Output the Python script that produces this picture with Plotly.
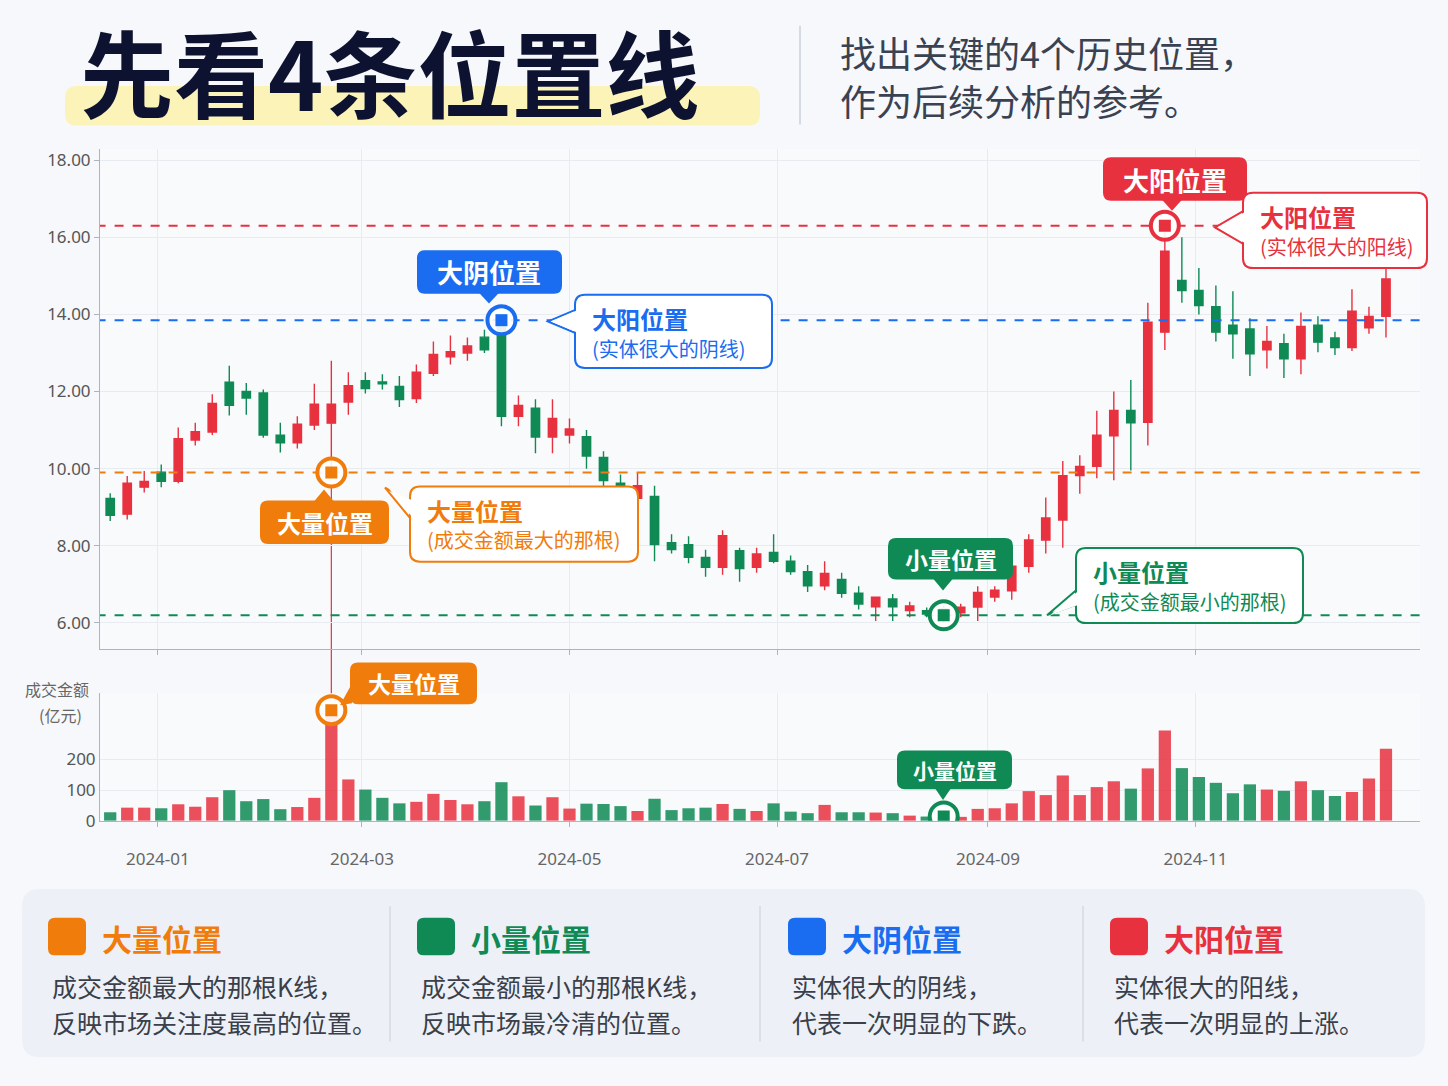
import pandas as pd
import plotly.graph_objects as go

opens  = [9.23,8.82,9.52,9.91,9.67,10.74,10.95,12.24,12.00,11.96,10.87,10.67,11.13,11.18,11.73,12.28,12.25,12.13,11.82,12.47,12.90,13.00,13.41,13.92,11.36,
          11.57,10.82,10.87,10.83,10.29,9.62,9.23,9.28,8.08,8.03,7.70,7.44,7.87,7.44,7.83,7.60,7.33,6.96,7.13,6.77,6.42,6.62,6.32,6.32,6.36,6.26,
          6.41,6.67,6.83,7.47,8.15,8.67,9.82,10.06,10.85,11.51,11.20,13.54,14.88,14.62,14.20,13.72,13.62,13.08,13.24,12.85,13.72,13.39,13.14,13.65,13.95]
highs  = [9.36,9.81,9.94,10.11,11.07,11.19,11.93,12.67,12.22,12.05,11.19,11.36,12.20,12.80,12.50,12.50,12.45,12.40,12.70,13.30,13.45,13.40,13.60,13.95,11.90,
          11.80,11.80,11.30,11.00,10.45,9.85,9.90,9.56,8.30,8.25,7.90,8.40,7.95,7.95,8.30,7.75,7.50,7.60,7.30,6.95,6.60,6.75,6.55,6.40,6.45,6.50,
          6.95,6.95,7.65,8.30,9.25,10.20,10.35,11.50,12.00,12.30,14.30,16.30,16.00,15.20,14.75,14.60,13.90,13.70,13.50,14.05,13.95,13.55,14.65,14.20,15.20]
lows   = [8.64,8.68,9.38,9.52,9.62,10.60,10.87,11.38,11.40,10.80,10.42,10.52,11.00,9.90,11.40,11.95,12.05,11.60,11.70,12.40,12.70,12.80,13.00,11.10,11.10,
          10.40,10.40,10.65,10.00,9.55,9.45,9.20,7.60,7.80,7.55,7.20,7.25,7.07,7.30,7.55,7.25,6.80,6.85,6.65,6.35,6.05,6.05,6.15,6.15,6.00,6.15,
          6.05,6.55,6.60,7.30,7.80,7.95,9.35,9.75,9.70,9.95,10.60,13.08,14.30,14.00,13.30,12.85,12.40,12.60,12.35,12.45,13.02,12.95,13.05,13.50,13.40]
closes = [8.79,9.62,9.67,9.67,10.78,10.96,11.69,11.64,11.83,10.87,10.67,11.15,11.67,11.67,12.15,12.08,12.20,11.79,12.50,12.96,13.03,13.18,13.08,11.36,11.64,
          10.82,11.30,11.03,10.33,9.69,9.56,9.56,8.03,7.90,7.70,7.44,8.26,7.41,7.79,7.60,7.33,6.96,7.28,6.77,6.49,6.67,6.42,6.44,6.23,6.08,6.41,
          6.79,6.85,7.47,8.15,8.72,9.82,10.06,10.87,11.51,11.19,13.80,15.64,14.62,14.23,13.54,13.50,12.98,13.30,12.85,13.69,13.28,13.14,14.08,13.95,14.92]
volumes = [28,43,43,41,54,46,77,100,64,71,38,45,75,361,135,102,75,57,62,88,68,54,64,126,80,50,77,40,56,55,48,32,72,35,41,43,55,39,32,
           57,30,25,52,28,28,27,25,17,14,8,13,39,41,57,97,84,148,84,110,129,105,171,295,172,143,124,90,119,102,98,129,100,81,94,138,235]
dates = pd.date_range("2023-12-18", periods=len(opens), freq="5D")
level_lines = {"red": 16.3, "blue": 13.85, "orange": 9.9, "green": 6.2}
x_ticks = ["2024-01-01", "2024-03-01", "2024-05-01", "2024-07-01", "2024-09-01", "2024-11-01"]
x_tick_text = ["2024-01", "2024-03", "2024-05", "2024-07", "2024-09", "2024-11"]
price_ticks = [6, 8, 10, 12, 14, 16, 18]
vol_ticks = [0, 100, 200]

RED, GREEN, BLUE, ORANGE = "#e8313f", "#0f8a55", "#1a6cf0", "#f07c0c"
FONT = "Noto Sans CJK SC"
W, H = 1448, 1086
def px(x): return x / W
def py(y): return 1 - y / H

big_i = max(range(len(volumes)), key=lambda i: volumes[i])
small_i = min(range(len(volumes)), key=lambda i: volumes[i])
yin_i, yang_i = 23, 62

fig = go.Figure()
fig.add_trace(go.Candlestick(x=dates, open=opens, high=highs, low=lows, close=closes,
    increasing=dict(line=dict(color=RED, width=1.4), fillcolor=RED),
    decreasing=dict(line=dict(color=GREEN, width=1.4), fillcolor=GREEN),
    whiskerwidth=0, xaxis="x", yaxis="y", showlegend=False, hoverinfo="skip"))
vcol = [RED if c >= o else GREEN for o, c in zip(opens, closes)]
fig.add_trace(go.Bar(x=dates, y=volumes, marker=dict(color=vcol, line=dict(width=0)), opacity=0.85,
    xaxis="x2", yaxis="y2", showlegend=False, width=1000*3600*24*3.6))

lines_x = [dates[0] - pd.Timedelta(days=4), dates[-1] + pd.Timedelta(days=10)]
for c, v in zip([RED, BLUE, ORANGE, GREEN], level_lines.values()):
    fig.add_trace(go.Scatter(x=lines_x, y=[v, v], mode="lines", line=dict(color=c, width=2, dash="dash"),
        showlegend=False, hoverinfo="skip"))

def mark(xv, yv, c, xa="x", ya="y"):
    fig.add_trace(go.Scatter(x=[xv], y=[yv], mode="markers", xaxis=xa, yaxis=ya,
        marker=dict(symbol="circle", size=28, color="rgba(255,255,255,0.9)", line=dict(color=c, width=4)),
        showlegend=False, hoverinfo="skip"))
    fig.add_trace(go.Scatter(x=[xv], y=[yv], mode="markers", xaxis=xa, yaxis=ya,
        marker=dict(symbol="square", size=12, color=c), showlegend=False, hoverinfo="skip"))

mark(dates[yang_i], level_lines["red"], RED)
mark(dates[yin_i], level_lines["blue"], BLUE)
mark(dates[big_i], level_lines["orange"], ORANGE)
mark(dates[small_i], level_lines["green"], GREEN)
mark(dates[big_i], volumes[big_i], ORANGE, "x2", "y2")
mark(dates[small_i], 14, GREEN, "x2", "y2")

shapes, anns = [], []
def rrect(x0, y0, x1, y1, r, fill, line=None, lw=0):
    p = (f"M {px(x0+r)} {py(y0)} L {px(x1-r)} {py(y0)} Q {px(x1)} {py(y0)} {px(x1)} {py(y0+r)} "
         f"L {px(x1)} {py(y1-r)} Q {px(x1)} {py(y1)} {px(x1-r)} {py(y1)} L {px(x0+r)} {py(y1)} "
         f"Q {px(x0)} {py(y1)} {px(x0)} {py(y1-r)} L {px(x0)} {py(y0+r)} Q {px(x0)} {py(y0)} {px(x0+r)} {py(y0)} Z")
    shapes.append(dict(type="path", xref="paper", yref="paper", path=p, fillcolor=fill,
                       line=dict(color=line or fill, width=lw), layer="above"))
def tri(pts, fill, line=None, lw=0):
    p = "M " + " L ".join(f"{px(a)} {py(b)}" for a, b in pts) + " Z"
    shapes.append(dict(type="path", xref="paper", yref="paper", path=p, fillcolor=fill,
                       line=dict(color=line or fill, width=lw), layer="above"))
def text(x, y, s, size, color, xa="center", ya="middle", bold=False, align="center"):
    anns.append(dict(xref="paper", yref="paper", x=px(x), y=py(y), text=f"<b>{s}</b>" if bold else s,
        showarrow=False, xanchor=xa, yanchor=ya, align=align, font=dict(family=FONT, size=size, color=color)))

def tag(x0, y0, x1, y1, c, s, tip, size=26):
    rrect(x0, y0, x1, y1, 8, c)
    tip(c)
    text((x0+x1)/2, (y0+y1)/2, s, size, "white", bold=True)

def callout(x0, y0, x1, y1, c, t1, t2, ptr):
    tri(ptr, "white", c, 2)
    rrect(x0, y0, x1, y1, 10, "white", c, 2)
    tri([(p[0] + (3 if p[0] < x0 + 5 else 0), p[1]) for p in ptr], "white")
    text(x0 + 15, y0 + 24, t1, 24, c, xa="left", bold=True)
    text(x0 + 15, y0 + 54, t2, 20, c, xa="left")

shapes.append(dict(type="line", xref="x", yref="paper", x0=dates[big_i], x1=dates[big_i], y0=py(700), y1=py(490),
                   line=dict(color=RED, width=1.2), layer="below"))

tag(1103, 158, 1247, 202, RED, "大阳位置", lambda c: tri([(1162, 201), (1182, 201), (1172, 212)], c))
callout(1243, 194, 1427, 270, RED, "大阳位置", "(实体很大的阳线)", [(1244, 212), (1215, 229), (1244, 246)])
tag(417, 252, 562, 296, BLUE, "大阴位置", lambda c: tri([(479, 295), (499, 295), (489, 306)], c))
callout(575, 297, 772, 371, BLUE, "大阳位置", "(实体很大的阴线)", [(576, 312), (548, 324), (576, 336)])
tag(260, 505, 389, 549, ORANGE, "大量位置", lambda c: tri([(314, 506), (334, 506), (324, 494)], c), 24)
callout(410, 491, 638, 567, ORANGE, "大量位置", "(成交金额最大的那根)", [(411, 506), (385, 492), (411, 524)])
tag(888, 543, 1013, 585, GREEN, "小量位置", lambda c: tri([(933, 584), (953, 584), (943, 596)], c), 23)
callout(1076, 553, 1303, 629, GREEN, "小量位置", "(成交金额最小的那根)", [(1077, 595), (1047, 621), (1077, 610)])
tag(350, 669, 477, 711, ORANGE, "大量位置", lambda c: tri([(352, 690), (352, 710), (340, 712)], c), 23)
tag(897, 758, 1012, 797, GREEN, "小量位置", lambda c: tri([(935, 796), (951, 796), (943, 808)], c), 21)

rrect(65, 86, 760, 126, 12, "#fbf3b8")
text(78, 70, "先看4条位置线", 94, "#0c1230", xa="left", bold=True)
shapes.append(dict(type="line", xref="paper", yref="paper", x0=px(800), x1=px(800), y0=py(25), y1=py(125),
                   line=dict(color="#d5dae3", width=2)))
text(838, 52, "找出关键的4个历史位置，", 36, "#3a4252", xa="left")
text(838, 100, "作为后续分析的参考。", 36, "#3a4252", xa="left")
text(57, 696, "成交金额", 16, "#666")
text(60, 722, "(亿元)", 16, "#666")

rrect(22, 898, 1425, 1068, 18, "#edf1f7")
for xd in [390, 760, 1083]:
    shapes.append(dict(type="line", xref="paper", yref="paper", x0=px(xd), x1=px(xd), y0=py(915), y1=py(1052),
                       line=dict(color="#d3d9e3", width=1.5)))
items = [(48, ORANGE, "大量位置", "成交金额最大的那根K线，", "反映市场关注度最高的位置。"),
         (417, GREEN, "小量位置", "成交金额最小的那根K线，", "反映市场最冷清的位置。"),
         (788, BLUE, "大阴位置", "实体很大的阴线，", "代表一次明显的下跌。"),
         (1110, RED, "大阳位置", "实体很大的阳线，", "代表一次明显的上涨。")]
for x0, c, t, l1, l2 in items:
    rrect(x0, 927, x0 + 38, 965, 7, c)
    text(x0 + 52, 947, t, 30, c, xa="left", bold=True)
    text(x0 + 2, 996, l1, 25, "#3a3f4a", xa="left")
    text(x0 + 2, 1032, l2, 25, "#3a3f4a", xa="left")

xr = [pd.Timestamp("2023-12-15"), pd.Timestamp("2025-01-06")]
fig.update_layout(
    width=W, height=H, margin=dict(l=0, r=0, t=0, b=0),
    paper_bgcolor="#f6f8fb", plot_bgcolor="#f9fafc",
    shapes=shapes, annotations=anns, bargap=0.1,
    xaxis=dict(domain=[px(100), px(1420)], range=xr, rangeslider=dict(visible=False), showticklabels=False,
               showgrid=True, gridcolor="#e8ebf0", tickvals=x_ticks, anchor="y", zeroline=False,
               showline=True, linecolor="#aeb4bf", ticks="outside", tickcolor="#aeb4bf", ticklen=5),
    yaxis=dict(domain=[py(655), py(150)], range=[5.33, 18.28], tickvals=price_ticks, tickformat=".2f",
               showgrid=True, gridcolor="#e8ebf0", showline=True, linecolor="#aeb4bf",
               tickfont=dict(family="Noto Sans", size=17, color="#555"), zeroline=False, ticks="outside",
               tickcolor="#aeb4bf", ticklen=5),
    xaxis2=dict(domain=[px(100), px(1420)], range=xr, tickvals=x_ticks, ticktext=x_tick_text, anchor="y2",
                showgrid=True, gridcolor="#e8ebf0", tickfont=dict(family="Noto Sans", size=17, color="#666"),
                showline=True, linecolor="#aeb4bf", ticks="outside", tickcolor="#aeb4bf", ticklen=5, ticklabelstandoff=18),
    yaxis2=dict(domain=[py(829), py(700)], range=[0, 416], tickvals=vol_ticks, showgrid=True, gridcolor="#e8ebf0",
                tickfont=dict(family="Noto Sans", size=17, color="#555"), showline=True, linecolor="#aeb4bf",
                zeroline=False, anchor="x2"),
)
fig.write_html("out.html", config={"displayModeBar": False}, post_script="document.body.style.margin='0';")
